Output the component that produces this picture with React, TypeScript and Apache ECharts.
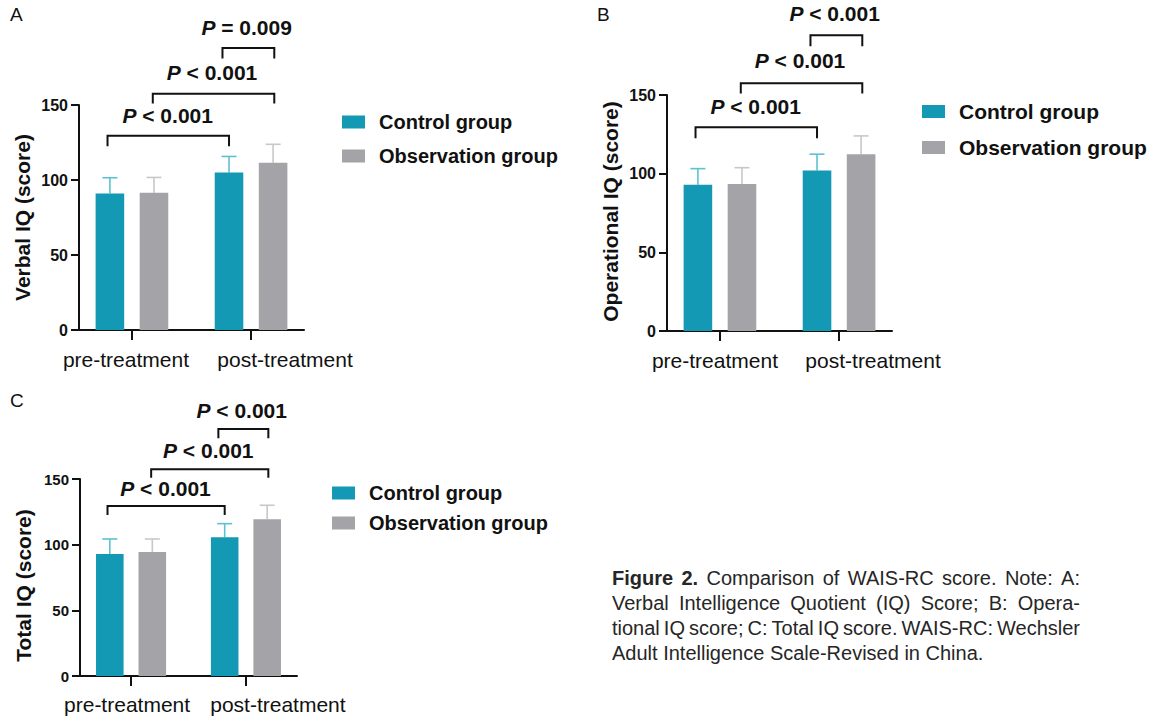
import React, { useEffect, useRef } from 'react';
import * as echarts from 'echarts';

// ---------- data ----------
const CATEGORIES = ['pre-treatment', 'post-treatment'];
const SERIES_NAMES = ['Control group', 'Observation group'];

const VERBAL_CONTROL = [91, 105];
const VERBAL_CONTROL_SD = [10.5, 10.7];
const VERBAL_OBS = [91.5, 111.5];
const VERBAL_OBS_SD = [10.2, 12.3];
const VERBAL_P = ['< 0.001', '< 0.001', '= 0.009'];

const OPER_CONTROL = [93, 102];
const OPER_CONTROL_SD = [10.2, 10.4];
const OPER_OBS = [93.5, 112.3];
const OPER_OBS_SD = [10.3, 11.7];
const OPER_P = ['< 0.001', '< 0.001', '< 0.001'];

const TOTAL_CONTROL = [92.9, 105.6];
const TOTAL_CONTROL_SD = [11.4, 10.4];
const TOTAL_OBS = [94.4, 119.3];
const TOTAL_OBS_SD = [9.9, 10.7];
const TOTAL_P = ['< 0.001', '< 0.001', '< 0.001'];

const Y_MIN = 0;
const Y_MAX = 150;
const Y_INTERVAL = 50;

const CAPTION_LINES = [
  'Figure 2. Comparison of WAIS-RC score. Note: A:',
  'Verbal Intelligence Quotient (IQ) Score; B: Opera-',
  'tional IQ score; C: Total IQ score. WAIS-RC: Wechsler',
  'Adult Intelligence Scale-Revised in China.',
];
const CAPTION_BOLD = 'Figure 2.';

// ---------- layout / style ----------
const W = 1158;
const H = 719;
const FONT = '"Liberation Sans", Arial, Helvetica, sans-serif';
const TEAL = '#1399B3';
const GRAY = '#A3A3A8';
const TEAL_ERR = '#5EC1D3';
const GRAY_ERR = '#C8C8CB';
const INK = '#111111';

// value axis used for drawing: categories sit at 0 and 1
const X_MIN = -4 / 9;
const X_MAX = 13 / 9;
// display axis: 18 evenly spaced slots, categories at slot 4 and 13 (same positions)
const SLOT_COUNT = 18;
const SLOT_INDEX = [4, 13];
const BAR_OFFSET = 0.185;
const BAR_W = 0.24;

// bracket layout in data units: [x1, x2, yTop, yLeg, textX, textY]
const BRACKETS = [
  [-0.205, 0.815, 129.5, 122.5, 0.3, 143],
  [0.175, 1.195, 157.5, 151, 0.672, 172],
  [0.76, 1.195, 188, 181, 0.963, 202],
];

const PANELS = [
  {
    key: 'A', yName: 'Verbal IQ (score)',
    control: VERBAL_CONTROL, controlSd: VERBAL_CONTROL_SD, obs: VERBAL_OBS, obsSd: VERBAL_OBS_SD, p: VERBAL_P,
    grid: { left: 79, top: 105, width: 225, height: 225 },
    title: { left: 10, top: 5 },
    legend: { left: 342, top: 112, itemGap: 14, fontSize: 20 },
    tickFont: 16, nameFont: 21, namePad: [0, 0, 0, 0], labelShift: [-6, 34], labelMargin: 19,
  },
  {
    key: 'B', yName: 'Operational IQ (score)',
    control: OPER_CONTROL, controlSd: OPER_CONTROL_SD, obs: OPER_OBS, obsSd: OPER_OBS_SD, p: OPER_P,
    grid: { left: 667, top: 95, width: 225, height: 236 },
    title: { left: 597, top: 5 },
    legend: { left: 922, top: 101, itemGap: 15, fontSize: 21 },
    tickFont: 16, nameFont: 21, namePad: [0, 0, 0, 3], labelShift: [-5, 34], labelMargin: 19,
  },
  {
    key: 'C', yName: 'Total IQ (score)',
    control: TOTAL_CONTROL, controlSd: TOTAL_CONTROL_SD, obs: TOTAL_OBS, obsSd: TOTAL_OBS_SD, p: TOTAL_P,
    grid: { left: 80, top: 479, width: 217, height: 197 },
    title: { left: 10, top: 391 },
    legend: { left: 332, top: 483, itemGap: 10, fontSize: 20 },
    tickFont: 15, nameFont: 21, namePad: [0, 16, 0, 0], labelShift: [-4, 32], labelMargin: 18,
  },
];

const CAP_X = 612;
const CAP_W = 468;
const CAP_Y0 = 577.5;
const CAP_LH = 25;
const CAP_SIZE = 20;

function barRenderer(offset: number, color: string, errColor: string) {
  return (params: any, api: any) => {
    const x = api.value(0) + offset;
    const v = api.value(1);
    const sd = api.value(2);
    const tl = api.coord([x - BAR_W / 2, v]);
    const br = api.coord([x + BAR_W / 2, 0]);
    const mid = api.coord([x, v]);
    const top = api.coord([x, v + sd]);
    const cap = 7.5;
    return {
      type: 'group',
      children: [
        { type: 'line', shape: { x1: mid[0], y1: mid[1], x2: top[0], y2: top[1] }, style: { stroke: errColor, lineWidth: 1.6 } },
        { type: 'line', shape: { x1: top[0] - cap, y1: top[1], x2: top[0] + cap, y2: top[1] }, style: { stroke: errColor, lineWidth: 1.6 } },
        { type: 'rect', shape: { x: tl[0], y: tl[1], width: br[0] - tl[0], height: br[1] - tl[1] }, style: { fill: color } },
      ],
    };
  };
}

function bracketRenderer(labels: string[], fontSize: number) {
  return (params: any, api: any) => {
    const x1 = api.value(0), x2 = api.value(1), yt = api.value(2), yl = api.value(3);
    const tx = api.value(4), ty = api.value(5);
    const a = api.coord([x1, yl]);
    const b = api.coord([x1, yt]);
    const c = api.coord([x2, yt]);
    const d = api.coord([x2, yl]);
    const t = api.coord([tx, ty]);
    return {
      type: 'group',
      children: [
        { type: 'polyline', shape: { points: [a, b, c, d] }, style: { stroke: INK, lineWidth: 2, fill: 'none' } },
        {
          type: 'text', x: t[0], y: t[1],
          style: {
            text: '{p|P} ' + labels[params.dataIndex],
            fontFamily: FONT, fontSize, fontWeight: 'bold', fill: INK,
            align: 'center', verticalAlign: 'middle',
            rich: { p: { fontFamily: FONT, fontSize, fontWeight: 'bold', fontStyle: 'italic', fill: INK } },
          },
        },
      ],
    };
  };
}

function buildCaption() {
  const canvas = document.createElement('canvas');
  const ctx = canvas.getContext('2d')!;
  const measure = (w: string, bold: boolean) => {
    ctx.font = `${bold ? 'bold ' : ''}${CAP_SIZE}px "Liberation Sans"`;
    return ctx.measureText(w).width;
  };
  const boldCount = CAPTION_BOLD.split(' ').length;
  const els: any[] = [];
  CAPTION_LINES.forEach((line, li) => {
    const words = line.split(' ');
    const isBold = (i: number) => li === 0 && i < boldCount;
    const widths = words.map((w, i) => measure(w, isBold(i)));
    const total = widths.reduce((s, v) => s + v, 0);
    const spaceW = measure(' ', false);
    const last = li === CAPTION_LINES.length - 1;
    let gap = last ? spaceW : (CAP_W - total) / (words.length - 1);
    let scale = 1;
    if (gap < spaceW * 0.6) {
      gap = spaceW * 0.6;
      scale = CAP_W / (total + gap * (words.length - 1));
    }
    let x = CAP_X;
    words.forEach((w, i) => {
      els.push({
        type: 'text', x, y: CAP_Y0 + li * CAP_LH, scaleX: scale,
        style: {
          text: w, fontFamily: FONT, fontSize: CAP_SIZE, fontWeight: isBold(i) ? 'bold' : 'normal',
          fill: '#262626', verticalAlign: 'middle', align: 'left',
        },
      });
      x += (widths[i] + gap) * scale;
    });
  });
  return els;
}

export default function App() {
  const ref = useRef<HTMLDivElement>(null);
  useEffect(() => {
    if (!ref.current) return;
    const chart = echarts.init(ref.current, null, { renderer: 'svg', width: W, height: H });

    const grid: any[] = [];
    const xAxis: any[] = [];
    const yAxis: any[] = [];
    const series: any[] = [];
    const legend: any[] = [];
    const title: any[] = [];

    const slots = Array.from({ length: SLOT_COUNT }, (_, i) => {
      const k = SLOT_INDEX.indexOf(i);
      return k >= 0 ? CATEGORIES[k] : 'slot' + i;
    });

    PANELS.forEach((p, gi) => {
      grid.push({ ...p.grid, containLabel: false });
      // drawing axis (hidden)
      xAxis.push({
        gridIndex: gi, type: 'value', min: X_MIN, max: X_MAX, position: 'bottom',
        axisLine: { show: false, onZero: false }, axisTick: { show: false }, axisLabel: { show: false },
        splitLine: { show: false },
      });
      // display axis
      const labelStyle = { fontFamily: FONT, fontSize: 21, color: INK };
      xAxis.push({
        gridIndex: gi, type: 'category', data: slots, boundaryGap: false, position: 'bottom',
        axisLine: { show: true, onZero: false, lineStyle: { color: INK, width: 2 } },
        axisTick: {
          show: true, length: 10, lineStyle: { color: INK, width: 2 },
          interval: (index: number) => SLOT_INDEX.indexOf(index) >= 0,
        },
        axisLabel: {
          show: true, interval: 0, margin: p.labelMargin, ...labelStyle,
          formatter: (value: string, index: number) => {
            const k = SLOT_INDEX.indexOf(index);
            if (k < 0) return '';
            return '{c' + k + '|' + CATEGORIES[k] + '}';
          },
          rich: {
            c0: { ...labelStyle, padding: [0, -2 * p.labelShift[0], 0, 0] },
            c1: { ...labelStyle, padding: [0, 0, 0, 2 * p.labelShift[1]] },
          },
        },
        splitLine: { show: false },
      });
      yAxis.push({
        gridIndex: gi, type: 'value', min: Y_MIN, max: Y_MAX, interval: Y_INTERVAL,
        axisLine: { show: true, onZero: false, lineStyle: { color: INK, width: 2 } },
        axisTick: { show: true, length: 8, lineStyle: { color: INK, width: 2 } },
        axisLabel: { fontFamily: FONT, fontSize: p.tickFont, fontWeight: 'bold', color: INK, margin: 11 },
        splitLine: { show: false },
        name: p.yName, nameLocation: 'middle', nameGap: 46,
        nameTextStyle: { fontFamily: FONT, fontSize: p.nameFont, fontWeight: 'bold', color: INK, padding: p.namePad },
      });
      const xi = gi * 2;
      series.push({
        type: 'custom', name: SERIES_NAMES[0], xAxisIndex: xi, yAxisIndex: gi,
        itemStyle: { color: TEAL }, clip: false, silent: true,
        encode: { x: 0, y: 1 },
        data: CATEGORIES.map((_, i) => [i, p.control[i], p.controlSd[i]]),
        renderItem: barRenderer(-BAR_OFFSET, TEAL, TEAL_ERR),
      });
      series.push({
        type: 'custom', name: SERIES_NAMES[1], xAxisIndex: xi, yAxisIndex: gi,
        itemStyle: { color: GRAY }, clip: false, silent: true,
        encode: { x: 0, y: 1 },
        data: CATEGORIES.map((_, i) => [i, p.obs[i], p.obsSd[i]]),
        renderItem: barRenderer(BAR_OFFSET, GRAY, GRAY_ERR),
      });
      series.push({
        type: 'custom', name: 'brackets-' + p.key, xAxisIndex: xi, yAxisIndex: gi,
        clip: false, silent: true,
        encode: { x: [0, 1], y: [2, 3] },
        data: BRACKETS,
        renderItem: bracketRenderer(p.p, 21),
      });
      legend.push({
        data: SERIES_NAMES, orient: 'vertical', left: p.legend.left, top: p.legend.top,
        itemWidth: 23, itemHeight: 13, itemGap: p.legend.itemGap, icon: 'rect', selectedMode: false,
        padding: 0,
        textStyle: { fontFamily: FONT, fontSize: p.legend.fontSize, fontWeight: 'bold', color: INK, padding: [0, 0, 0, 9] },
      });
      title.push({
        text: p.key, left: p.title.left, top: p.title.top, padding: 0,
        textStyle: { fontFamily: FONT, fontSize: 19, fontWeight: 'normal', color: INK },
      });
    });

    chart.setOption({
      animation: false,
      backgroundColor: '#ffffff',
      textStyle: { fontFamily: FONT },
      title, grid, xAxis, yAxis, series, legend,
      graphic: buildCaption(),
    });
    return () => chart.dispose();
  }, []);

  return (
    <div
      ref={ref}
      style={{ position: 'fixed', left: 0, top: 0, width: W, height: H, background: '#fff' }}
    />
  );
}
